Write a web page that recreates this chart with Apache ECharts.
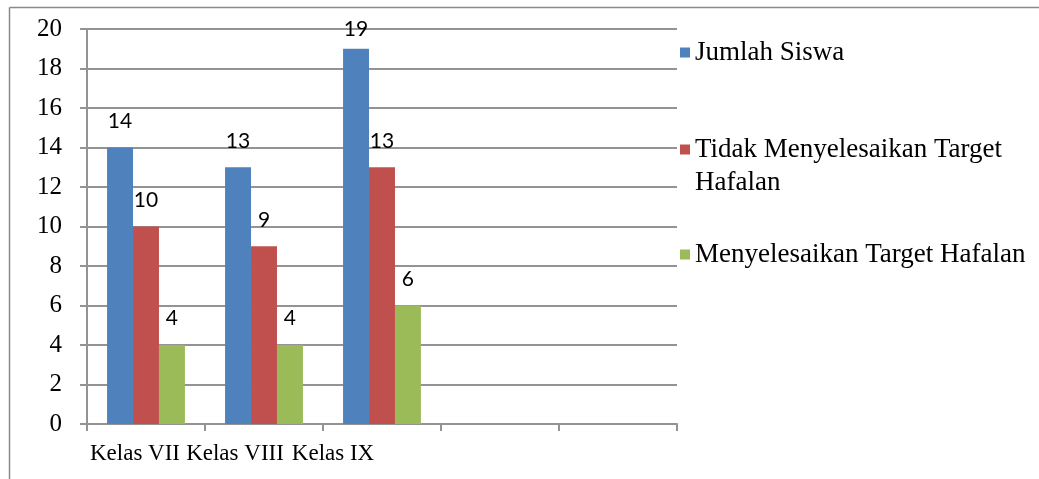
<!DOCTYPE html>
<html>
<head>
<meta charset="utf-8">
<script src="https://cdn.jsdelivr.net/npm/echarts@6/dist/echarts.min.js"></script>
<style>html,body{margin:0;padding:0;background:#fff}#c{width:1039px;height:479px}</style>
</head>
<body>
<div id="c"></div>
<script>
// ---- data ----
const categories = ['Kelas VII', 'Kelas VIII', 'Kelas IX', '', ''];
const seriesNames = ['Jumlah Siswa', 'Tidak Menyelesaikan Target Hafalan', 'Menyelesaikan Target Hafalan'];
const jumlahSiswa = [14, 13, 19];
const tidakSelesai = [10, 9, 13];
const selesai = [4, 4, 6];
const yTicks = [0, 2, 4, 6, 8, 10, 12, 14, 16, 18, 20];

// ---- layout / style ----
const colors = ['#4F81BD', '#C0504D', '#9BBB59'];
const labelShiftLeft = [11, 29, 49, 0, 0]; // x-label offsets (px) as in the reference
const serif = '"Liberation Serif", "Times New Roman", serif';
const gridColor = '#939393';
const pxPerUnit = 395 / 20;

const chart = echarts.init(document.getElementById('c'), null, {renderer: 'canvas'});

const xData = categories.map((c, i) => ({
  value: c,
  textStyle: { padding: [0, labelShiftLeft[i] * 2, 0, 0] }
}));

const yMax = yTicks[yTicks.length - 1];
const values = [jumlahSiswa, tidakSelesai, selesai];
const series = seriesNames.map((n, i) => ({
  name: n,
  type: 'bar',
  data: values[i].map(v => ({
    value: v,
    label: { distance: Math.min(16, (yMax - v) * pxPerUnit - 10.5) }
  })),
  barGap: '0%',
  barCategoryGap: '34%',
  itemStyle: { color: colors[i] },
  label: {
    show: true,
    position: 'top',
    fontFamily: 'Lato, "Open Sans", sans-serif',
    fontSize: 21,
    color: '#000'
  },
  emphasis: { disabled: true },
  animation: false
}));

const legendBase = {
  orient: 'vertical',
  left: 680,
  itemWidth: 10,
  itemHeight: 10,
  padding: 0,
  icon: 'rect',
  selectedMode: false,
  textStyle: { fontFamily: serif, fontSize: 27, color: '#000', lineHeight: 33 }
};

chart.setOption({
  animation: false,
  backgroundColor: '#fff',
  grid: { left: 87, right: 362, top: 29, bottom: 55, containLabel: false },
  xAxis: {
    type: 'category',
    data: xData,
    boundaryGap: true,
    axisLine: { lineStyle: { color: gridColor, width: 2 } },
    axisTick: { show: true, length: 7, lineStyle: { color: gridColor, width: 2 } },
    axisLabel: { interval: 0, margin: 18, fontFamily: serif, fontSize: 23, color: '#000' },
    splitLine: { show: false }
  },
  yAxis: {
    type: 'value',
    min: yTicks[0],
    max: yMax,
    interval: 2,
    axisLine: { show: true, lineStyle: { color: gridColor, width: 2 } },
    axisTick: { show: true, length: 7, lineStyle: { color: gridColor, width: 2 } },
    axisLabel: { margin: 25, fontFamily: serif, fontSize: 25, color: '#000' },
    splitLine: { show: true, lineStyle: { color: gridColor, width: 2 } }
  },
  legend: [
    Object.assign({}, legendBase, { top: 36, data: [seriesNames[0]] }),
    Object.assign({}, legendBase, {
      top: 100,
      data: [seriesNames[1]],
      formatter: () => ' \nTidak Menyelesaikan Target\nHafalan'
    }),
    Object.assign({}, legendBase, { top: 238, data: [seriesNames[2]] })
  ],
  graphic: [
    { type: 'line', silent: true, shape: { x1: 9.5, y1: 7.5, x2: 1039, y2: 7.5 }, style: { stroke: '#8a8a8a', lineWidth: 1.5 } },
    { type: 'line', silent: true, shape: { x1: 9.5, y1: 7.5, x2: 9.5, y2: 479 }, style: { stroke: '#8a8a8a', lineWidth: 1.5 } }
  ],
  series: series
});
</script>
</body>
</html>
